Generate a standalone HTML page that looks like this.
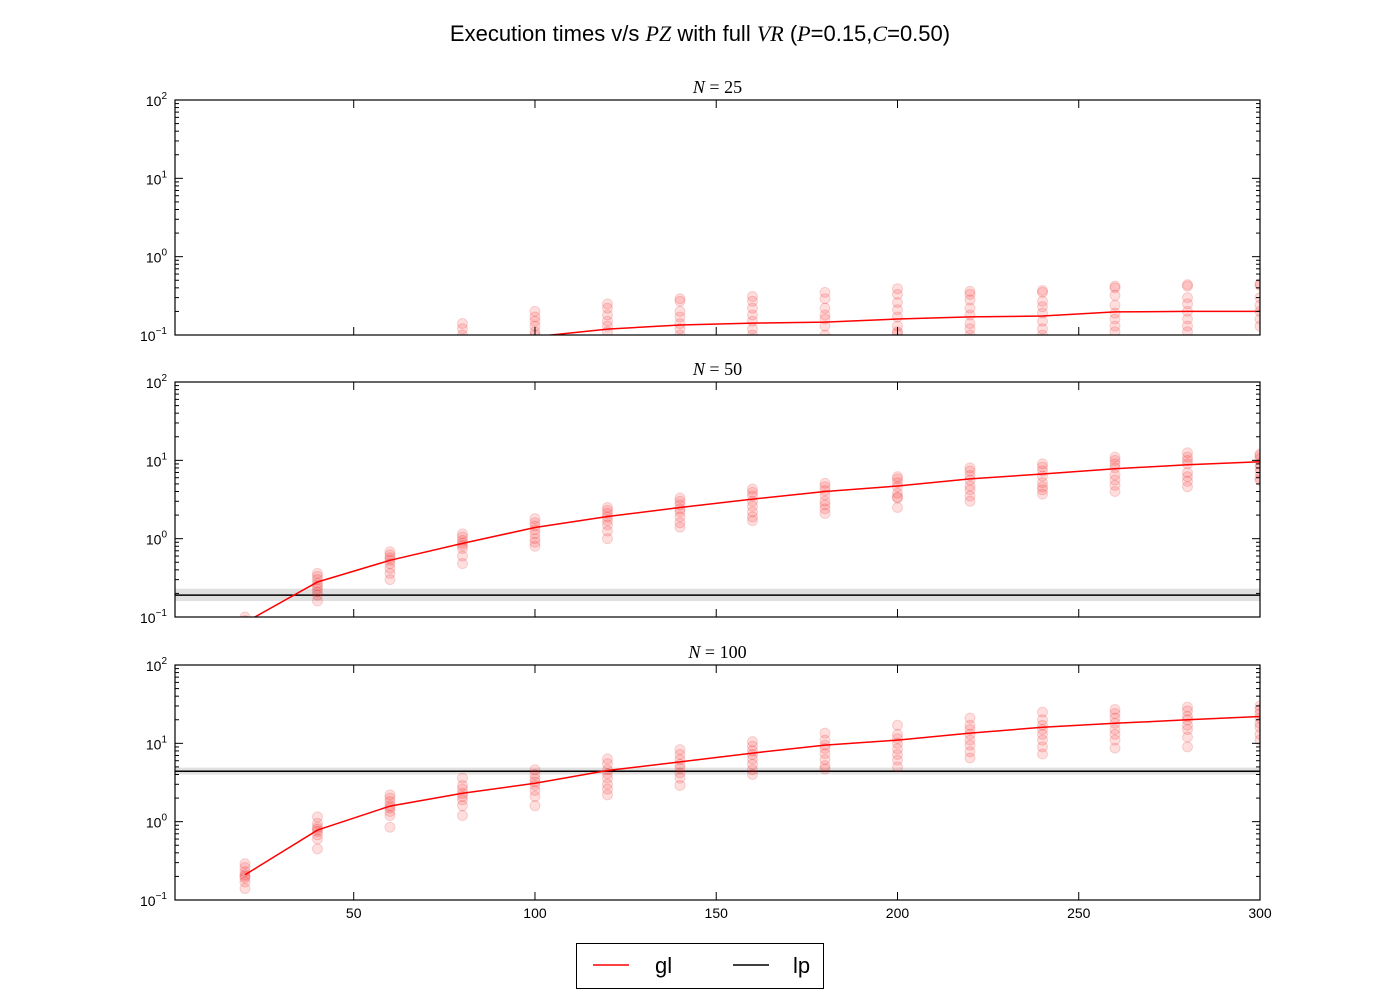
<!DOCTYPE html>
<html><head><meta charset="utf-8"><style>
body{margin:0;background:#fff;}
svg{display:block;font-family:"Liberation Sans",sans-serif;}
.serif{font-family:"Liberation Serif",serif;font-style:italic;}
</style></head><body>
<svg id="chart" width="1400" height="1000" xmlns="http://www.w3.org/2000/svg">
<text x="700" y="41" text-anchor="middle" font-size="22">Execution times v/s <tspan class="serif">PZ</tspan> with full <tspan class="serif">VR</tspan> (<tspan class="serif">P</tspan>=0.15,<tspan class="serif">C</tspan>=0.50)</text>
<g>
<rect x="576.5" y="943.5" width="247" height="45" fill="#fff" stroke="#000"/>
<line x1="593" y1="965" x2="629" y2="965" stroke="#f00" stroke-width="1.5"/>
<text x="655" y="973" font-size="22">gl</text>
<line x1="733" y1="965" x2="769" y2="965" stroke="#000" stroke-width="1.5"/>
<text x="793" y="973" font-size="22">lp</text>
</g>
</svg>
<script>
const xs=[20,40,60,80,100,120,140,160,180,200,220,240,260,280,300];
const titles=["25","50","100"];
const glMean1=[0.02,0.04,0.06,0.08,0.095,0.119,0.134,0.142,0.146,0.16,0.17,0.175,0.197,0.2,0.2];
const glMean2=[0.085,0.28,0.53,0.87,1.39,1.92,2.5,3.2,4.0,4.7,5.8,6.7,7.8,8.8,9.6];
const glMean3=[0.21,0.78,1.58,2.3,3.1,4.5,5.8,7.5,9.5,11,13.5,16,18,20,22];
const lpMean=[null,0.19,4.4];
const lpBand=[null,[0.16,0.23],[4.0,4.9]];
const pts1=[[],[],[],[0.14,0.12,0.1],[0.2,0.17,0.15,0.13,0.11,0.1],[0.25,0.22,0.18,0.15,0.13,0.11],[0.29,0.27,0.2,0.17,0.14,0.12,0.1],[0.31,0.27,0.22,0.18,0.15,0.12,0.1],[0.35,0.29,0.22,0.18,0.16,0.13,0.1],[0.39,0.33,0.26,0.21,0.17,0.13,0.11,0.105],[0.36,0.33,0.28,0.22,0.18,0.14,0.12,0.1],[0.37,0.35,0.27,0.23,0.19,0.15,0.12,0.1],[0.42,0.4,0.32,0.24,0.19,0.16,0.13,0.11],[0.44,0.42,0.3,0.25,0.2,0.16,0.13,0.11],[0.45,0.43,0.3,0.24,0.2,0.16,0.13]];
const pts2=[[0.1,0.09],[0.36,0.33,0.3,0.27,0.25,0.23,0.21,0.19,0.16],[0.68,0.62,0.57,0.53,0.48,0.42,0.36,0.3],[1.15,1.05,0.95,0.88,0.82,0.75,0.6,0.48],[1.8,1.6,1.45,1.3,1.15,1.0,0.9,0.8],[2.5,2.3,2.1,1.9,1.7,1.5,1.25,1.0],[3.3,3.0,2.7,2.4,2.2,1.9,1.6,1.4],[4.3,3.9,3.5,3.0,2.6,2.2,1.9,1.7],[5.1,4.6,4.1,3.6,3.0,2.7,2.4,2.1],[6.2,5.8,5.2,4.6,3.8,3.4,3.3,2.5],[8.0,7.3,6.4,5.6,4.7,4.2,3.5,3.0],[9.0,8.2,7.3,6.3,5.2,4.6,4.2,3.7],[11,10,9,8,6.5,5.6,4.8,4.0],[12.5,11,10,9,7,6.2,5.4,4.6],[12,11.5,10.5,9,8,7,6,5.6]];
const pts3=[[0.29,0.26,0.23,0.21,0.2,0.19,0.17,0.14],[1.15,0.95,0.85,0.8,0.75,0.68,0.6,0.45],[2.2,2.0,1.8,1.6,1.5,1.35,1.2,0.85],[3.6,2.9,2.6,2.3,2.1,1.9,1.6,1.2],[4.6,4.0,3.5,3.2,2.9,2.5,2.1,1.6],[6.3,5.5,4.6,4.1,3.6,3.0,2.6,2.2],[8.3,7.2,6.2,5.4,4.8,4.2,3.6,2.9],[10.5,9.2,8.0,7.2,6.3,5.4,4.6,4.0],[13.5,11,9.5,8.6,7.4,6.2,5.2,4.7],[17,13,11.5,10,8.5,7.2,6.1,5.0],[21,17,15,13,11,9.5,7.8,6.5],[25,20,17,15,13,11,9,7.3],[27,24,21,18,15,13,11,8.7],[29,26,22,20,17,15,12,9],[30,27,24,21,18,16,13,11]];
const xTicks=[50,100,150,200,250,300];
const yTicks=[0.1,1,10,100];
const yTickLabels=["1","0","1","2"];
const means=[glMean1,glMean2,glMean3];
const pts=[pts1,pts2,pts3];

const NS="http://www.w3.org/2000/svg";
const svg=document.getElementById('chart');
const L=175,R=1260,X0=0.7,X1=300;
const tops=[100,382,665],H=235;
function mk(tag,attrs,parent){const e=document.createElementNS(NS,tag);for(const k in attrs)e.setAttribute(k,attrs[k]);(parent||svg).appendChild(e);return e;}
function xS(v){return L+(v-X0)/(X1-X0)*(R-L);}
for(let p=0;p<3;p++){
  const T=tops[p],B=T+H;
  const yS=v=>B-(Math.log10(v)+1)/3*H;
  const g=mk('g',{});
  
  
  const cid='clip'+p;
  const cp=mk('clipPath',{id:cid},g);mk('rect',{x:L,y:T,width:R-L,height:H},cp);
  const plot=mk('g',{'clip-path':'url(#'+cid+')'},g);
  if(lpMean[p]){
    const band=mk('rect',{x:L,y:yS(lpBand[p][1]),width:R-L,height:yS(lpBand[p][0])-yS(lpBand[p][1]),fill:'#000','fill-opacity':0.12},plot);
    
    
    const ll=mk('line',{x1:L,x2:R,y1:yS(lpMean[p]),y2:yS(lpMean[p]),stroke:'#000','stroke-width':1.5},plot);
    
    
  }
  pts[p].forEach((arr,i)=>arr.forEach(v=>{
    const c=mk('circle',{cx:xS(xs[i]),cy:yS(v),r:5,fill:'#f00','fill-opacity':0.13,stroke:'#c00','stroke-opacity':0.15},plot);
    
    
  }));
  const d=means[p].map((v,i)=>(i?'L':'M')+xS(xs[i]).toFixed(1)+','+yS(v).toFixed(1)).join('');
  const gl=mk('path',{d:d,fill:'none',stroke:'#f00','stroke-width':1.5},plot);
  
  
  mk('rect',{x:L,y:T,width:R-L,height:H,fill:'none',stroke:'#000','stroke-width':1.2},g);
  // y ticks
  yTicks.forEach((v,i)=>{
    const y=yS(v);
    mk('line',{x1:L,x2:L+8,y1:y,y2:y,stroke:'#000'},g);
    mk('line',{x1:R,x2:R-8,y1:y,y2:y,stroke:'#000'},g);
    const t=mk('text',{x:L-8,y:y+6,'text-anchor':'end','font-size':14},g);
    
    
    t.innerHTML='10<tspan dy="-7" font-size="10">'+(i===0?'−1':yTickLabels[i])+'</tspan>';
    if(i<3)for(let m=2;m<10;m++){const ym=yS(v*m);
      mk('line',{x1:L,x2:L+4,y1:ym,y2:ym,stroke:'#000'},g);
      mk('line',{x1:R,x2:R-4,y1:ym,y2:ym,stroke:'#000'},g);}
  });
  xTicks.forEach(v=>{const x=xS(v);
    mk('line',{x1:x,x2:x,y1:B,y2:B-8,stroke:'#000'},g);
    mk('line',{x1:x,x2:x,y1:T,y2:T+8,stroke:'#000'},g);
    if(p===2){const t=mk('text',{x:x,y:B+18,'text-anchor':'middle','font-size':14},g);
      
      
      t.textContent=v;}
  });
  const st=mk('text',{x:(L+R)/2,y:T-7,'text-anchor':'middle','font-size':18,'font-family':'Liberation Serif,serif'},g);
  
  
  st.innerHTML='<tspan font-style="italic">N</tspan> = '+titles[p];
}
</script>
</body></html>
